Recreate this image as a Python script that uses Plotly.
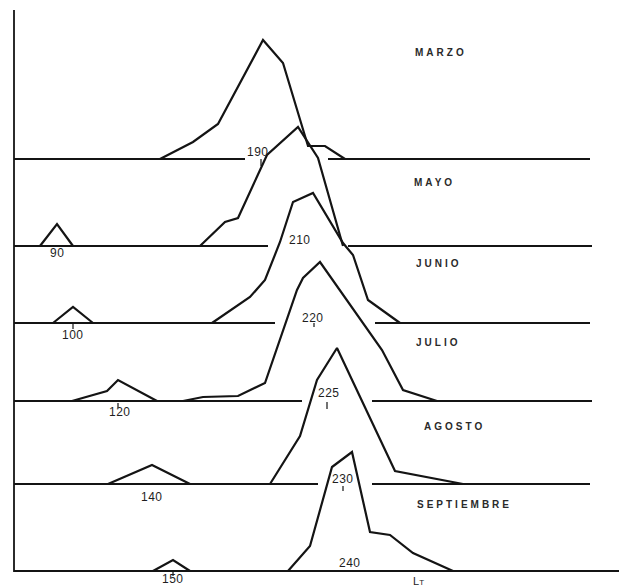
import plotly.graph_objects as go

# ---------------- data ----------------
months = ["MARZO", "MAYO", "JUNIO", "JULIO", "AGOSTO", "SEPTIEMBRE"]
baseline_offset = [412, 325, 248, 170, 87, 0]   # vertical stacking of each month

# main cohort: total length (LT) and relative frequency
marzo_len = [141, 157.5, 170, 192.5, 202.5, 215, 223.5, 233.5]
marzo_freq = [0, 17, 35, 119, 96, 13, 13, 0]
mayo_len = [161, 173.5, 180, 194.5, 210, 220, 232.5]
mayo_freq = [0, 24, 28, 91, 119, 88, 0]
junio_len = [167, 186, 193.5, 201, 207.5, 217.5, 232.5, 237.5, 245, 261]
junio_freq = [0, 26, 43, 81, 121, 130, 80, 68, 23, 0]
julio_len = [152.5, 162.5, 180, 193.5, 209.5, 212.5, 221, 252, 262.5, 279.5]
julio_freq = [0, 4, 5, 18, 111, 123, 139, 51, 11, 0]
agosto_len = [196, 211, 219.5, 229.5, 258.5, 292.5]
agosto_freq = [0, 48, 104, 136, 13, 0]
sept_len = [205, 216, 227, 237, 246, 256, 267.5, 287.5]
sept_freq = [0, 25, 104, 119, 39, 36, 18, 0]

# small (recruit) cohort
mayo_small_len = [81, 89.5, 97.5]
mayo_small_freq = [0, 22, 0]
junio_small_len = [87.5, 97.5, 107.5]
junio_small_freq = [0, 16, 0]
julio_small_len = [97, 114.5, 120, 139.5]
julio_small_freq = [0, 10, 21, 0]
agosto_small_len = [115, 137, 156]
agosto_small_freq = [0, 19, 0]
sept_small_len = [137.5, 147.5, 156]
sept_small_freq = [0, 11, 0]

# mode labels
main_mode_labels = ["190", "210", "220", "225", "230", "240"]
small_mode_labels = [None, "90", "100", "120", "140", "150"]

# ---------------- layout helpers ----------------
main_curves = [(marzo_len, marzo_freq), (mayo_len, mayo_freq), (junio_len, junio_freq),
               (julio_len, julio_freq), (agosto_len, agosto_freq), (sept_len, sept_freq)]
small_curves = [None, (mayo_small_len, mayo_small_freq), (junio_small_len, junio_small_freq),
                (julio_small_len, julio_small_freq), (agosto_small_len, agosto_small_freq),
                (sept_small_len, sept_small_freq)]

axis_left = 68
baseline_left_end = [183.5, 195, 198.5, 212, 220, 373.5]
baseline_right_start = [225, 235, 248.5, 247, 247, None]
baseline_right_end = [356, 357, 356, 357, 356, None]

main_label_x = [190, 211, 217.5, 225.5, 232.5, 236]
main_label_dy = [7, 6, 5, 8, 5, 8]
small_label_x = [None, 89.5, 97.5, 121, 137, 147.5]
small_label_dy = [None, -7, -12, -11, -13, -8]
month_label_x = [281.5, 278, 280.5, 280, 288, 293]
month_label_y = [519, 389, 308, 229, 145, 67]

tick_x = [191.5, None, 218, 224.5, 232.5, None]
tick_y = [(0, -7), None, (0, -4), (-1, -8), (-2, -7), None]
small_tick_x = [None, None, 97.5, 120, None, 147.5]
small_tick_y = [None, None, (-1, -6), (-2, -7), None, (0, -5)]

ink = "#141414"
fig = go.Figure()

# baselines
bx, by = [], []
for i, off in enumerate(baseline_offset):
    bx += [axis_left, baseline_left_end[i], None]
    by += [off, off, None]
    if baseline_right_start[i] is not None:
        bx += [baseline_right_start[i], baseline_right_end[i], None]
        by += [off, off, None]
# vertical axis line
bx += [axis_left, axis_left, None]
by += [-1, 561, None]
fig.add_trace(go.Scatter(x=bx, y=by, mode="lines", line=dict(color=ink, width=1.8),
                         hoverinfo="skip", showlegend=False))

# curves
cx, cy = [], []
for i, off in enumerate(baseline_offset):
    xs, fs = main_curves[i]
    cx += list(xs) + [None]
    cy += [off + f for f in fs] + [None]
    if small_curves[i] is not None:
        xs, fs = small_curves[i]
        cx += list(xs) + [None]
        cy += [off + f for f in fs] + [None]
fig.add_trace(go.Scatter(x=cx, y=cy, mode="lines", line=dict(color=ink, width=2.2),
                         hoverinfo="skip", showlegend=False))

# little tick marks under mode labels
tx, ty = [], []
for i, off in enumerate(baseline_offset):
    if tick_x[i] is not None:
        tx += [tick_x[i], tick_x[i], None]
        ty += [off + tick_y[i][0], off + tick_y[i][1], None]
    if small_tick_x[i] is not None:
        tx += [small_tick_x[i], small_tick_x[i], None]
        ty += [off + small_tick_y[i][0], off + small_tick_y[i][1], None]
fig.add_trace(go.Scatter(x=tx, y=ty, mode="lines", line=dict(color=ink, width=1.2),
                         hoverinfo="skip", showlegend=False))

num_font = dict(family="Liberation Sans, Arial, sans-serif", size=12, color="#1e1e1e")
month_font = dict(family="Liberation Sans, Arial, sans-serif", size=10, color="#2a2a2a")

for i, off in enumerate(baseline_offset):
    fig.add_annotation(x=main_label_x[i], y=off + main_label_dy[i],
                       text="<span style='letter-spacing:0.5px'>" + main_mode_labels[i] + "</span>",
                       showarrow=False, font=num_font, xanchor="center", yanchor="middle")
    if small_mode_labels[i] is not None:
        fig.add_annotation(x=small_label_x[i], y=off + small_label_dy[i],
                           text="<span style='letter-spacing:0.5px'>" + small_mode_labels[i] + "</span>",
                           showarrow=False, font=num_font, xanchor="center", yanchor="middle")
    fig.add_annotation(x=month_label_x[i], y=month_label_y[i],
                       text="<b><span style='letter-spacing:3px'>" + months[i] + "</span></b>",
                       showarrow=False, font=month_font, xanchor="center", yanchor="middle")

fig.add_annotation(x=270, y=-10, text="L<span style='font-size:8px'>T</span>",
                   showarrow=False, font=dict(family="Liberation Sans, Arial, sans-serif", size=11, color="#222"),
                   xanchor="center", yanchor="middle")

# the page body adds an 8px margin, so the figure is 8px smaller and the ranges start 8px in
fig.update_layout(
    width=619, height=579,
    margin=dict(l=0, r=0, t=0, b=0),
    paper_bgcolor="white", plot_bgcolor="white",
    xaxis=dict(range=[65, 374.5], visible=False, fixedrange=True),
    yaxis=dict(range=[-16, 563], visible=False, fixedrange=True),
    showlegend=False,
)

fig.write_html("out.html", config={"displayModeBar": False})
